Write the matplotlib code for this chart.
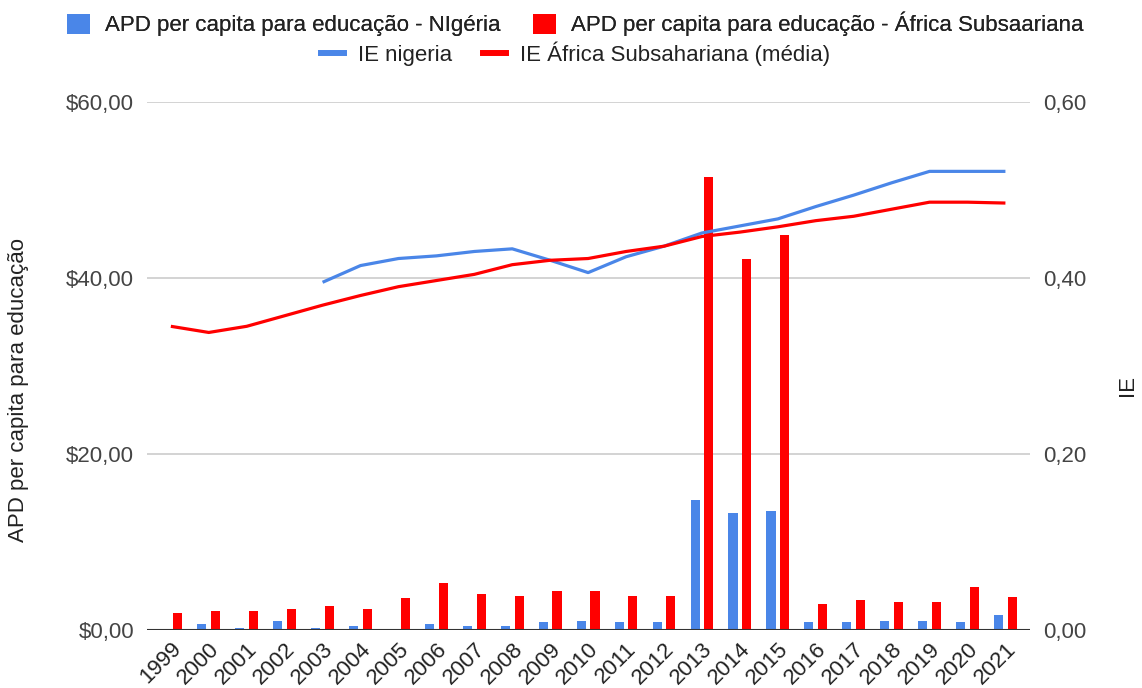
import matplotlib
matplotlib.use("Agg")
import matplotlib.pyplot as plt
import numpy as np
from matplotlib.ticker import FuncFormatter
from matplotlib.patches import Patch
from matplotlib.lines import Line2D

plt.rcParams['font.family'] = ['Liberation Sans', 'DejaVu Sans']

years = [str(y) for y in range(1999, 2022)]
apd_nigeria = [0.0, 0.64, 0.23, 1.06, 0.23, 0.45, 0.0, 0.64, 0.45, 0.45, 0.87, 1.06,
               0.87, 0.87, 14.8, 13.3, 13.5, 0.87, 0.87, 1.06, 1.06, 0.87, 1.7]
apd_ssa = [1.93, 2.12, 2.12, 2.35, 2.77, 2.35, 3.64, 5.34, 4.05, 3.83, 4.47, 4.47,
           3.83, 3.83, 51.5, 42.2, 44.9, 3.0, 3.45, 3.2, 3.2, 4.9, 3.8]
ie_nigeria = [None, None, None, None, 0.395, 0.414, 0.422, 0.425, 0.430, 0.433, 0.420, 0.406,
              0.424, 0.436, 0.451, 0.459, 0.467, 0.481, 0.494, 0.508, 0.521, 0.521, 0.521]
ie_ssa = [0.345, 0.338, 0.345, 0.357, 0.369, 0.380, 0.390, 0.397, 0.404, 0.415, 0.420, 0.422,
          0.430, 0.436, 0.447, 0.452, 0.458, 0.465, 0.470, 0.478, 0.486, 0.486, 0.485]

blue = '#4a86e8'
red = '#ff0000'
fs = 16

fig = plt.figure(figsize=(11.42, 6.88), dpi=100)
ax = fig.add_axes([0.129, 0.0843, 0.773, 0.7677])
ax2 = ax.twinx()

x = np.arange(len(years))
off = 0.18
w = 0.24
ax.bar(x - off, apd_nigeria, width=w, color=blue, zorder=3)
ax.bar(x + off, apd_ssa, width=w, color=red, zorder=3)

ie_n = np.array([np.nan if v is None else v for v in ie_nigeria])
ax2.plot(x, ie_n, color=blue, lw=2.3, solid_capstyle='butt', zorder=4)
ax2.plot(x, ie_ssa, color=red, lw=2.3, solid_capstyle='butt', zorder=4)

ax.set_ylim(0, 60)
ax2.set_ylim(0, 0.6)
ax.set_xlim(-0.62, 22.65)
ax.set_yticks([0, 20, 40, 60])
ax2.set_yticks([0, 0.2, 0.4, 0.6])
ax.yaxis.set_major_formatter(FuncFormatter(lambda v, p: "$%s" % ("%.2f" % v).replace('.', ',')))
ax2.yaxis.set_major_formatter(FuncFormatter(lambda v, p: ("%.2f" % v).replace('.', ',')))
ax.grid(axis='y', color='#cccccc', lw=1.2, zorder=0)
ax.set_axisbelow(True)

for a in (ax, ax2):
    for s in a.spines.values():
        s.set_visible(False)
    a.tick_params(length=0, labelsize=fs, colors='#444444')
ax.axhline(0, color='#333333', lw=1.5, zorder=5)

ax.set_xticks(x)
ax.set_xticklabels(years, rotation=45, ha='right', rotation_mode='anchor', fontsize=fs,
                   color='#222222')
ax.tick_params(axis='x', pad=6)
ax.tick_params(axis='y', pad=9.5)
ax2.tick_params(axis='y', pad=9.5)

fig.text(0.016, 0.433, 'APD per capita para educação', rotation=90, ha='center', va='center',
         fontsize=fs, color='#222222')
fig.text(0.987, 0.44, 'IE', rotation=90, ha='center', va='center', fontsize=fs, color='#222222')

h1 = [Patch(facecolor=blue, edgecolor='none'), Patch(facecolor=red, edgecolor='none')]
l1 = ['APD per capita para educação - NIgéria', 'APD per capita para educação - África Subsaariana']
leg1 = fig.legend(h1, l1, loc='center', bbox_to_anchor=(0.5035, 0.965), ncol=2, frameon=False,
                  fontsize=fs, handlelength=1.04, handleheight=1.0, handletextpad=0.68,
                  columnspacing=1.45, labelcolor='#222222', borderpad=0, borderaxespad=0)
h2 = [Line2D([], [], color=blue, lw=4.3), Line2D([], [], color=red, lw=4.3)]
l2 = ['IE nigeria', 'IE África Subsahariana (média)']
leg2 = fig.legend(h2, l2, loc='center', bbox_to_anchor=(0.504, 0.9215), ncol=2, frameon=False,
                  fontsize=fs, handlelength=1.05, handletextpad=0.63, columnspacing=1.4,
                  labelcolor='#222222', borderpad=0, borderaxespad=0)
fig.add_artist(leg1)

fig.savefig('out.png', dpi=100)
